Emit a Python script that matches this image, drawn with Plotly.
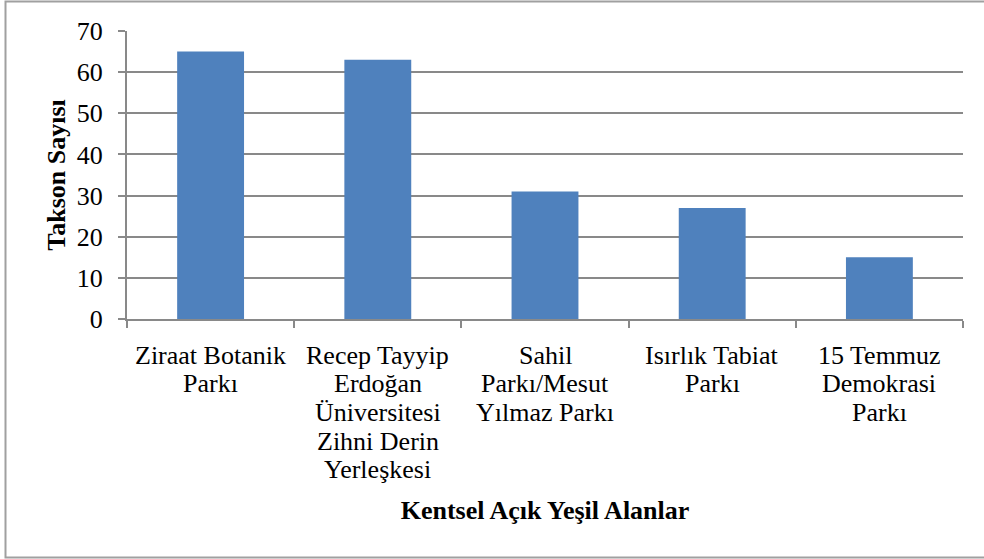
import plotly.graph_objects as go

categories = [
    "Ziraat Botanik<br>Parkı",
    "Recep Tayyip<br>Erdoğan<br>Üniversitesi<br>Zihni Derin<br>Yerleşkesi",
    "Sahil<br>Parkı/Mesut<br>Yılmaz Parkı",
    "Isırlık Tabiat<br>Parkı",
    "15 Temmuz<br>Demokrasi<br>Parkı",
]
values = [65, 63, 31, 27, 15]
y_ticks = [0, 10, 20, 30, 40, 50, 60, 70]

L, R, T, B = 127, 21, 31, 240
W, H = 984, 559
pw, ph = W - L - R, H - T - B

FAM = "Liberation Serif"
FS = 26
GRID = "#898989"

fig = go.Figure(go.Bar(x=categories, y=values, marker=dict(color="#4F81BD", line=dict(width=0))))

fig.update_layout(
    width=W, height=H,
    margin=dict(l=L, r=R, t=T, b=B, pad=0, autoexpand=False),
    paper_bgcolor="white", plot_bgcolor="white",
    bargap=0.6,
    showlegend=False,
    font=dict(family=FAM, size=FS, color="black"),
)
fig.update_xaxes(
    automargin=False,
    tickson="boundaries", ticks="outside", ticklen=7, tickcolor=GRID, tickwidth=2,
    showline=True, linecolor=GRID, linewidth=2,
    showgrid=False, showticklabels=False,
    title=dict(text="<b>Kentsel Açık Yeşil Alanlar</b>",
               font=dict(family=FAM, size=FS, color="black"), standoff=181),
)
fig.update_yaxes(
    automargin=False,
    range=[0, 70], tickvals=y_ticks, ticks="outside", ticklen=7, tickcolor=GRID, tickwidth=2,
    showline=True, linecolor=GRID, linewidth=2,
    showgrid=True, gridcolor=GRID, gridwidth=2, zeroline=False,
    tickfont=dict(family=FAM, size=FS, color="black"), ticklabelstandoff=10,
    title=dict(text="<b>Takson Sayısı</b>",
               font=dict(family=FAM, size=FS, color="black"), standoff=4),
)

# category labels, one annotation per line, placed on the category axis
LINE_GAP = 28.7
for cat in categories:
    for i, line in enumerate(cat.split("<br>")):
        fig.add_annotation(x=cat, y=0, xref="x", yref="y", text=line, showarrow=False,
                           yanchor="middle", xanchor="center", yshift=-(36 + i * LINE_GAP),
                           font=dict(family=FAM, size=FS, color="black"))

# outer frame (right edge lies outside the picture)
fig.add_shape(type="rect", xref="paper", yref="paper",
              x0=(5.5 - L) / pw, x1=(990 - L) / pw,
              y0=-(557.5 - (H - B)) / ph, y1=1 + (T - 1.5) / ph,
              line=dict(color="#A0A0A0", width=2), fillcolor="rgba(0,0,0,0)", layer="below")

fig.write_html("out.html", config={"displayModeBar": False},
               post_script="document.body.style.margin='0';")
